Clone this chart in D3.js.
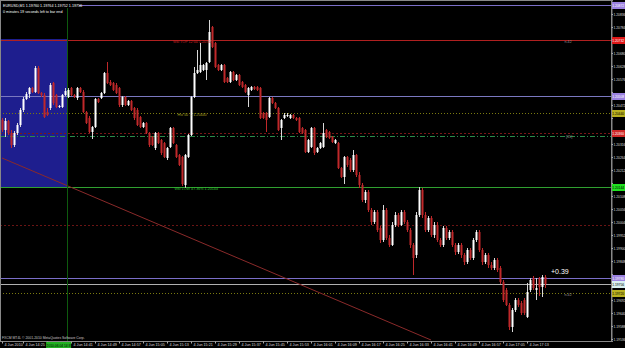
<!DOCTYPE html>
<html>
<head>
<meta charset="utf-8">
<script src="https://cdn.jsdelivr.net/npm/d3@7"></script>
<style>
  body { margin: 0; background: #000; }
  svg { display: block; font-family: 'Liberation Sans', sans-serif; }
</style>
</head>
<body>
<div id="chart"></div>
<script>
// EURUSD M1 quotes, in points (1 point = 0.00001), first bar 4 Jun 14:18
var open  = [120412,120372,120408,120360,120312,120360,120392,120452,120496,120516,120540,120524,120620,120520,120512,120444,120460,120560,120512,120464,120464,120512,
             120504,120540,120512,120500,120540,120524,120444,120420,120364,120384,120496,120500,120520,120600,120564,120560,120552,120540,120472,120504,120472,120488,
             120460,120452,120424,120384,120400,120360,120344,120300,120360,120332,120320,120260,120304,120380,120312,120272,120264,120152,120264,120352,120504,120600,
             120604,120612,120612,120644,120784,120720,120632,120612,120632,120580,120564,120604,120572,120592,120564,120552,120512,120532,120544,120544,120540,120440,
             120440,120424,120500,120480,120460,120380,120420,120428,120420,120432,120420,120420,120380,120372,120284,120304,120380,120284,120300,120304,120372,120364,
             120344,120320,120320,120220,120184,120264,120252,120212,120272,120192,120152,120092,120124,120052,120004,120044,119980,119932,120052,119940,119912,119992,
             120032,119992,120044,120004,119972,119912,119872,120032,120132,120032,119972,120020,119952,119992,119932,119912,119980,119940,119964,119912,119884,119912,
             119872,119844,119892,119860,119932,119964,119892,119844,119872,119832,119820,119852,119820,119764,119732,119672,119584,119652,119692,119680,119692,119624,
             119732,119780,119732,119780,119744,119784];
var high  = [120420,120420,120412,120372,120368,120400,120460,120504,120524,120544,120544,120628,120628,120524,120520,120460,120560,120564,120516,120472,120516,120540,
             120540,120544,120516,120544,120544,120532,120448,120428,120388,120500,120500,120524,120604,120644,120572,120564,120560,120544,120508,120508,120492,120492,
             120464,120460,120428,120404,120404,120364,120348,120364,120364,120336,120324,120304,120384,120384,120316,120276,120268,120276,120356,120508,120624,120692,
             120720,120636,120644,120812,120788,120724,120636,120636,120636,120584,120608,120608,120596,120596,120568,120556,120544,120548,120548,120548,120544,120444,
             120444,120504,120504,120484,120464,120416,120440,120440,120436,120436,120424,120424,120384,120376,120336,120384,120384,120304,120324,120400,120376,120368,
             120348,120336,120324,120224,120268,120268,120260,120292,120276,120204,120160,120132,120132,120060,120052,120052,119988,120072,120060,119952,120004,120044,
             120040,120052,120052,120012,119980,119920,120044,120144,120140,120044,120028,120028,120004,120004,119940,119988,119988,119972,119972,119920,119920,119920,
             119880,119900,119900,119940,119972,119972,119900,119880,119880,119844,119860,119860,119828,119772,119740,119680,119660,119700,119700,119688,119700,119760,
             119780,119788,119780,119784,119792,119792];
var low   = [120364,120344,120352,120300,120304,120352,120384,120444,120492,120500,120520,120520,120516,120504,120420,120428,120452,120472,120460,120460,120460,120508,
             120500,120508,120500,120492,120520,120440,120396,120360,120336,120380,120480,120496,120516,120556,120548,120528,120516,120464,120464,120468,120468,120448,
             120412,120388,120380,120380,120356,120304,120308,120292,120316,120272,120260,120252,120300,120316,120260,120228,120148,120140,120260,120348,120500,120596,
             120600,120608,120572,120640,120700,120620,120608,120608,120560,120560,120560,120568,120568,120548,120540,120520,120464,120528,120532,120528,120416,120416,
             120364,120420,120476,120456,120368,120332,120416,120424,120416,120416,120408,120360,120356,120280,120280,120300,120272,120280,120296,120300,120340,120336,
             120320,120316,120216,120180,120156,120224,120204,120204,120184,120140,120084,120080,120044,119992,119996,119964,119920,119924,119932,119904,119908,119984,
             119984,119988,119996,119964,119900,119792,119860,120024,120020,119964,119964,119944,119940,119924,119904,119904,119932,119932,119904,119872,119876,119860,
             119832,119836,119852,119852,119924,119884,119832,119836,119820,119812,119812,119804,119756,119684,119668,119572,119564,119644,119664,119632,119632,119620,
             119724,119732,119692,119708,119704,119740];
var close = [120372,120408,120360,120312,120360,120392,120452,120496,120516,120540,120524,120620,120520,120512,120424,120432,120552,120480,120464,120468,120512,120528,
             120532,120512,120504,120540,120524,120444,120400,120364,120384,120496,120484,120520,120600,120560,120552,120532,120520,120472,120504,120472,120488,120452,
             120420,120392,120384,120400,120360,120312,120312,120360,120320,120280,120264,120300,120380,120320,120264,120232,120156,120272,120352,120504,120600,120612,
             120632,120632,120640,120764,120704,120624,120612,120632,120564,120564,120604,120572,120592,120552,120544,120524,120540,120544,120536,120532,120420,120420,
             120412,120500,120480,120460,120372,120412,120432,120432,120432,120420,120412,120364,120360,120284,120332,120380,120280,120300,120320,120360,120344,120340,
             120324,120332,120220,120184,120264,120232,120212,120272,120192,120152,120092,120124,120052,120004,120044,119972,119932,120052,119940,119912,119992,120032,
             119992,120044,120004,119972,119912,119860,120032,120132,120032,119972,120020,119952,119992,119932,119912,119980,119940,119964,119912,119884,119912,119872,
             119844,119892,119860,119932,119964,119892,119844,119872,119832,119820,119852,119812,119764,119692,119672,119584,119652,119692,119672,119640,119640,119724,
             119772,119740,119740,119744,119784,119756];

// time axis: bar index of each label and its text
var timeTicks  = [0, 7, 15, 23, 31, 39, 47, 55, 63, 71, 79, 87, 95, 103, 111, 119, 127, 135, 143, 151, 159, 167, 175];
var timeLabels = ['4 Jun 2010', '4 Jun 14:25', '4 Jun 14:33', '4 Jun 14:41', '4 Jun 14:49', '4 Jun 14:57', '4 Jun 15:05',
                  '4 Jun 15:13', '4 Jun 15:21', '4 Jun 15:29', '4 Jun 15:37', '4 Jun 15:45', '4 Jun 15:53', '4 Jun 16:01',
                  '4 Jun 16:09', '4 Jun 16:17', '4 Jun 16:25', '4 Jun 16:33', '4 Jun 16:41', '4 Jun 16:49', '4 Jun 16:57',
                  '4 Jun 17:05', '4 Jun 17:13'];
// price axis ticks
var priceTicks = [120836, 120784, 120732, 120680, 120628, 120576, 120524, 120472, 120420, 120368, 120316, 120264, 120212,
                  120160, 120108, 120056, 120004, 119952, 119900, 119848, 119796, 119744, 119692, 119640, 119588, 119536];

// horizontal levels drawn on the chart
var levelPrices = [120872, 120732, 120508, 120440, 120360, 120348, 120144, 119992, 119780, 119756, 119720];
// session box (bars) and (prices), trend line ends
var boxBars = [0, 21.7], boxPrices = [120144, 120736];
var trendBars = [0, 143], trendPrices = [120260, 119532];

var width = 625, height = 348, plotRight = 611, plotBottom = 341;
var small = '3.7px', scaleFont = '3.3px';

var svg = d3.select('#chart')
  .append('svg')
    .attr('width', width)
    .attr('height', height);

svg.append('rect').attr('width', width).attr('height', height).attr('fill', '#000');

var x = d3.scaleLinear().domain([0, 203]).range([2, 611]);
var y = d3.scaleLinear().domain([119528, 120892]).range([plotBottom, 0]);

svg.append('clipPath').attr('id', 'plot')
  .append('rect').attr('width', plotRight).attr('height', plotBottom);

var g = svg.append('g').attr('clip-path', 'url(#plot)');

// session box
g.append('rect')
  .attr('x', x(boxBars[0]) - 1)
  .attr('y', y(boxPrices[1]))
  .attr('width', x(boxBars[1]) - x(boxBars[0]) + 1)
  .attr('height', y(boxPrices[0]) - y(boxPrices[1]))
  .attr('fill', '#1e1e8e');

// level lines
var levelStyle = [
  {stroke: '#7a6ec8', dash: null,      box: '#9b82e0', text: '#fff'},
  {stroke: '#b02020', dash: null,      box: '#e01818', text: '#fff'},
  {stroke: '#7a78c0', dash: null,      box: '#9b82e0', text: '#fff'},
  {stroke: '#7a7a10', dash: '1,2',     box: '#b8b020', text: '#000'},
  {stroke: '#7a1818', dash: '2,2',     box: '#d02828', text: '#fff'},
  {stroke: '#2a8a4a', dash: '5,2,1,2', box: null, text: null},
  {stroke: '#30a030', dash: null,      box: '#20e020', text: '#000'},
  {stroke: '#6a1414', dash: '2,2',     box: null, text: null},
  {stroke: '#7a6ec8', dash: null,      box: '#9b82e0', text: '#fff'},
  {stroke: '#b0b0b0', dash: null,      box: '#d8f0f0', text: '#000'},
  {stroke: '#7a7a10', dash: '1,2',     box: '#b8b020', text: '#000'}
];

levelPrices.forEach(function(p, i) {
  var s = levelStyle[i];
  g.append('line')
    .attr('x1', 0).attr('x2', plotRight)
    .attr('y1', Math.round(y(p)) + 0.5).attr('y2', Math.round(y(p)) + 0.5)
    .attr('stroke', s.stroke)
    .attr('stroke-dasharray', s.dash);
});

// trend line
g.append('line')
  .attr('x1', x(trendBars[0])).attr('y1', y(trendPrices[0]))
  .attr('x2', x(trendBars[1])).attr('y2', y(trendPrices[1]))
  .attr('stroke', '#8a2a2a');

// vertical line at end of session
g.append('line')
  .attr('x1', Math.round(x(boxBars[1])) + 0.5).attr('x2', Math.round(x(boxBars[1])) + 0.5)
  .attr('y1', 0).attr('y2', plotBottom)
  .attr('stroke', '#0e5a0e');

// candles
var bars = d3.range(open.length);
g.selectAll('.wick')
  .data(bars)
  .enter()
  .append('line')
    .attr('x1', function(i) { return x(i) + 0.5; })
    .attr('x2', function(i) { return x(i) + 0.5; })
    .attr('y1', function(i) { return y(high[i]); })
    .attr('y2', function(i) { return y(low[i]); })
    .attr('stroke', function(i) { return close[i] >= open[i] ? '#d8d8d8' : '#c0282a'; });

g.selectAll('.body')
  .data(bars)
  .enter()
  .append('rect')
    .attr('x', function(i) { return x(i) - 0.5; })
    .attr('width', 2)
    .attr('y', function(i) { return y(Math.max(open[i], close[i])); })
    .attr('height', function(i) { return Math.max(1, Math.abs(y(open[i]) - y(close[i]))); })
    .attr('fill', function(i) { return close[i] >= open[i] ? '#ffffff' : '#c0282a'; });

// chart annotations
function note(txt, bx, p, color, size) {
  g.append('text')
    .attr('x', x(bx)).attr('y', y(p))
    .attr('fill', color)
    .style('font-size', size || small)
    .text(txt);
}
note('Wkl TOP 12:00  1.20732', 57, 120720, '#d02020');
note('Hst 50 ...  1.20440', 58.5, 120428, '#a8a020');
note('Wkl LOW 47.36%  1.20144', 57.5, 120132, '#30c030');
note('n.42', 187.5, 120720, '#909090');
note('[35]', 188, 120340, '#909090');
note('n.42', 187.5, 119708, '#909090');
note('+0.39', 183, 119796, '#ffffff', '7px');

// header
svg.append('rect').attr('x', 1).attr('y', 1).attr('width', 78).attr('height', 7).attr('fill', '#000');
svg.append('text').attr('x', 3).attr('y', 6.5).attr('fill', '#fff').style('font-size', small)
  .text('EURUSD,M1  1.19760 1.19764 1.19752 1.19756');
svg.append('text').attr('x', 3).attr('y', 13).attr('fill', '#fff').style('font-size', small)
  .text('0 minutes 19 seconds left to bar end');
svg.append('text').attr('x', 2).attr('y', 339).attr('fill', '#c8c8c8').style('font-size', '3.4px')
  .text('FXCM MT4L \u00a9 2001-2010 MetaQuotes Software Corp.');

// frame
svg.append('rect')
  .attr('x', 0.5).attr('y', 0.5)
  .attr('width', plotRight).attr('height', plotBottom)
  .attr('fill', 'none').attr('stroke', '#888');

// price boxes hide the scale labels under them
var boxed = levelPrices.filter(function(p, i) { return levelStyle[i].box; });

// price axis
var yAxis = svg.append('g')
  .attr('transform', 'translate(' + (plotRight + 0.5) + ',0)')
  .call(d3.axisRight(y).tickValues(priceTicks).tickSize(1.5).tickPadding(0.5)
    .tickFormat(function(d) { return (d / 1e5).toFixed(5); }));
yAxis.select('.domain').attr('stroke', '#888');
yAxis.selectAll('line').attr('stroke', '#aaa');
yAxis.selectAll('text')
  .attr('fill', '#ddd')
  .style('font-size', scaleFont)
  .style('display', function(d) {
    return boxed.some(function(p) { return Math.abs(y(p) - y(d)) < 6; }) ? 'none' : null;
  });

// time axis
var xAxis = svg.append('g')
  .attr('transform', 'translate(0,' + (plotBottom + 0.5) + ')')
  .call(d3.axisBottom(x).tickValues(timeTicks).tickSize(2)
    .tickFormat(function(d, i) { return timeLabels[i]; }));
xAxis.select('.domain').remove();
xAxis.selectAll('line').attr('stroke', '#aaa');
xAxis.selectAll('text')
  .attr('fill', '#ddd')
  .attr('y', 1.5)
  .attr('x', 2)
  .style('text-anchor', 'start')
  .style('font-size', small)
  .style('display', function(d) { return d === 15 ? 'none' : null; });

// price boxes on the right scale
levelPrices.forEach(function(p, i) {
  var s = levelStyle[i];
  if (!s.box) return;
  var yy = Math.round(y(p));
  svg.append('rect')
    .attr('x', plotRight + 1).attr('y', yy - 3)
    .attr('width', width - plotRight - 1).attr('height', 7)
    .attr('fill', s.box);
  svg.append('text')
    .attr('x', plotRight + 1.2).attr('y', yy + 2)
    .attr('fill', s.text).style('font-size', scaleFont)
    .text((p / 1e5).toFixed(5));
});

// time box for the vertical line
svg.append('rect')
  .attr('x', x(boxBars[1]) - 21).attr('y', plotBottom + 1)
  .attr('width', 25).attr('height', 6)
  .attr('fill', '#20b020');
svg.append('text')
  .attr('x', x(boxBars[1]) - 20.5).attr('y', plotBottom + 5.5)
  .attr('fill', '#000').style('font-size', '3.3px')
  .text('2010.06.04 14:39');
</script>
</body>
</html>
